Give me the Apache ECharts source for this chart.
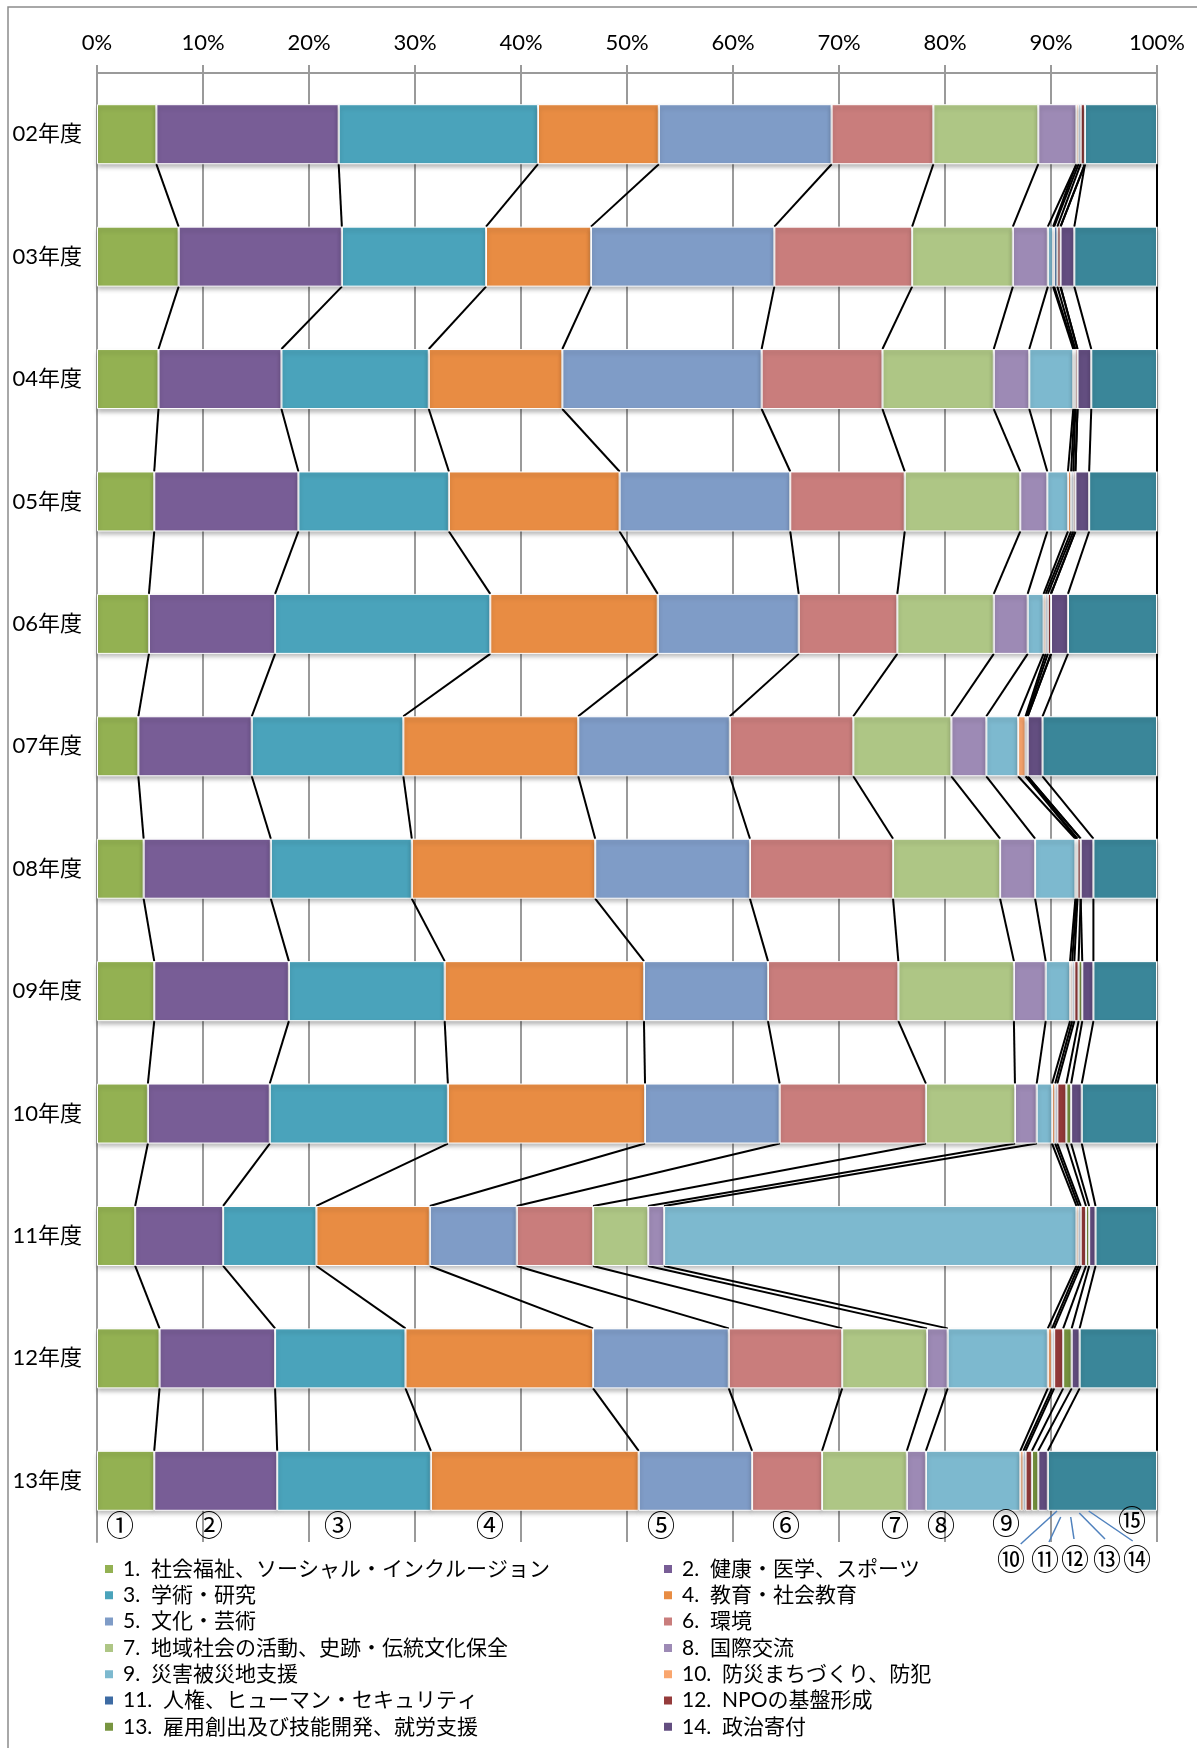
<!DOCTYPE html>
<html><head><meta charset="utf-8">
<script src="https://cdn.jsdelivr.net/npm/echarts@6/dist/echarts.min.js"></script>
<style>html,body{margin:0;padding:0;background:#fff}#c{width:1197px;height:1748px}</style>
</head><body><div id="c"></div>
<script>
const categories = ['02年度','03年度','04年度','05年度','06年度','07年度','08年度','09年度','10年度','11年度','12年度','13年度'];
const tickValues = [0,10,20,30,40,50,60,70,80,90,100];
const seriesNames = [
  '1.  社会福祉、ソーシャル・インクルージョン','2.  健康・医学、スポーツ','3.  学術・研究','4.  教育・社会教育',
  '5.  文化・芸術','6.  環境','7.  地域社会の活動、史跡・伝統文化保全','8.  国際交流','9.  災害被災地支援',
  '10.  防災まちづくり、防犯','11.  人権、ヒューマン・セキュリティ','12.  NPOの基盤形成',
  '13.  雇用創出及び技能開発、就労支援','14.  政治寄付','15'
];
const s01 = [5.6, 7.7, 5.8, 5.4, 4.9, 3.9, 4.4, 5.4, 4.8, 3.6, 5.9, 5.4];
const s02 = [17.2, 15.4, 11.6, 13.6, 11.9, 10.7, 12.0, 12.7, 11.5, 8.3, 10.9, 11.6];
const s03 = [18.8, 13.6, 13.9, 14.2, 20.3, 14.3, 13.3, 14.7, 16.8, 8.8, 12.3, 14.5];
const s04 = [11.4, 9.9, 12.6, 16.1, 15.8, 16.5, 17.3, 18.8, 18.6, 10.7, 17.7, 19.6];
const s05 = [16.3, 17.3, 18.8, 16.1, 13.3, 14.3, 14.6, 11.7, 12.7, 8.2, 12.8, 10.7];
const s06 = [9.6, 13.0, 11.4, 10.8, 9.3, 11.65, 13.5, 12.3, 13.8, 7.2, 10.7, 6.6];
const s07 = [9.9, 9.5, 10.5, 10.9, 9.1, 9.25, 10.1, 10.9, 8.4, 5.2, 8.0, 8.0];
const s08 = [3.6, 3.3, 3.35, 2.55, 3.2, 3.3, 3.3, 3.0, 2.05, 1.5, 1.95, 1.8];
const s09 = [0, 0.5, 4.15, 1.95, 1.5, 3.0, 3.8, 2.3, 1.45, 38.9, 9.45, 8.9];
const s10 = [0.2, 0.1, 0.1, 0.3, 0.2, 0.7, 0.1, 0.2, 0.3, 0.2, 0.4, 0.3];
const s11 = [0.2, 0.3, 0.1, 0.2, 0.2, 0.1, 0.1, 0.2, 0.2, 0.2, 0.2, 0.2];
const s12 = [0.4, 0.3, 0.2, 0.2, 0.3, 0.1, 0.3, 0.4, 0.85, 0.5, 0.85, 0.6];
const s13 = [0, 0, 0, 0, 0, 0, 0, 0.35, 0.45, 0.3, 0.8, 0.6];
const s14 = [0, 1.3, 1.3, 1.3, 1.6, 1.4, 1.2, 1.05, 1.0, 0.6, 0.75, 0.9];
const s15 = [6.8, 7.8, 6.2, 6.4, 8.4, 10.8, 6.0, 6.0, 7.1, 5.8, 7.3, 10.3];
const colors = ['#93B152','#785D96','#4AA3BB','#E88C43','#7F9CC7','#C97D7C','#AEC685','#9D8AB5',
  '#7DB9CF','#F9A66E','#3D6BA3','#953B3B','#789540','#634E80','#3A8699'];

const all = [s01,s02,s03,s04,s05,s06,s07,s08,s09,s10,s11,s12,s13,s14,s15];
const BAR_W = 60;
const FONT_MIX = 'Lato,"Noto Sans CJK JP","Noto Sans",sans-serif';

// cumulative stack ends (for connecting series lines)
const cum = [];
all.forEach((arr, k) => {
  cum.push(arr.map((v, i) => v + (k > 0 ? cum[k - 1][i] : 0)));
});
const lineData = [];
for (let k = 0; k < all.length; k++) {
  for (let i = 0; i < categories.length - 1; i++) {
    lineData.push([cum[k][i], i, cum[k][i + 1], i + 1]);
  }
}

const chart = echarts.init(document.getElementById('c'), null, {renderer: 'canvas'});

const barSeries = all.map((arr, k) => ({
  name: seriesNames[k],
  type: 'bar',
  stack: 'total',
  barWidth: BAR_W,
  data: arr,
  z: 3,
  itemStyle: {
    color: colors[k],
    borderColor: '#ffffff',
    borderWidth: 1,
    shadowColor: 'rgba(0,0,0,0.25)',
    shadowBlur: 4,
    shadowOffsetY: 3
  },
  emphasis: {disabled: true},
  animation: false
}));

const circ = (t, x, y, fs) => ({type: 'text', x: x, y: y, z: 10, style: {text: t, fontSize: fs || 28, fontFamily: '"Noto Sans CJK JP"', fill: '#000', align: 'center', verticalAlign: 'middle'}});
const lead = (x1, y1, x2, y2) => ({type: 'line', z: 10, shape: {x1, y1, x2, y2}, style: {stroke: '#4F81BD', lineWidth: 1.5}});

const option = {
  animation: false,
  backgroundColor: '#fff',
  grid: {left: 97, right: 40, top: 73, bottom: 206, containLabel: false},
  xAxis: {
    type: 'value', position: 'top', min: 0, max: 100, interval: 10,
    axisLine: {show: true, lineStyle: {color: '#9a9a9a', width: 2}},
    axisTick: {show: true, inside: false, length: 8, lineStyle: {color: '#9a9a9a', width: 2}},
    axisLabel: {margin: 19, formatter: v => tickValues.includes(v) ? v + '%' : '', color: '#000', fontSize: 22, fontFamily: FONT_MIX},
    splitLine: {show: true, lineStyle: {color: '#9a9a9a', width: 2}}
  },
  yAxis: {
    type: 'category', inverse: true, data: categories,
    axisLine: {show: true, lineStyle: {color: '#9a9a9a', width: 2}},
    axisTick: {show: false},
    axisLabel: {margin: 15, color: '#000', fontSize: 22, fontFamily: FONT_MIX}
  },
  legend: [
    {
      data: seriesNames.filter((n, i) => i < 14 && i % 2 === 0),
      orient: 'vertical', left: 103, top: 1558, padding: 0,
      itemWidth: 10, itemHeight: 10, itemGap: 4.3, icon: 'rect', selectedMode: false,
      textStyle: {fontSize: 21, lineHeight: 22, color: '#000', fontFamily: FONT_MIX, padding: [0, 0, 0, 4]}
    },
    {
      data: seriesNames.filter((n, i) => i < 14 && i % 2 === 1),
      orient: 'vertical', left: 662, top: 1558, padding: 0,
      itemWidth: 10, itemHeight: 10, itemGap: 4.3, icon: 'rect', selectedMode: false,
      textStyle: {fontSize: 21, lineHeight: 22, color: '#000', fontFamily: FONT_MIX, padding: [0, 0, 0, 4]}
    }
  ],
  series: barSeries.concat([{
    type: 'custom',
    name: 'series-lines',
    coordinateSystem: 'cartesian2d',
    data: lineData,
    encode: {x: [0, 2], y: [1, 3]},
    z: 2,
    silent: true,
    renderItem: (params, api) => {
      const a = api.coord([api.value(0), api.value(1)]);
      const b = api.coord([api.value(2), api.value(3)]);
      const h = BAR_W / 2;
      return {type: 'line', shape: {x1: a[0], y1: a[1] + h, x2: b[0], y2: b[1] - h}, style: {stroke: '#000', lineWidth: 2}};
    }
  }]),
  graphic: [
    {type: 'rect', shape: {x: 8, y: 7, width: 1300, height: 1900}, style: {fill: 'none', stroke: '#8c8c8c', lineWidth: 1.5}, z: -1},
    lead(1020.7, 1544, 1057, 1511), lead(1049, 1542, 1060.7, 1517), lead(1074, 1539, 1070.7, 1517),
    lead(1105, 1539, 1079.3, 1513), lead(1132.7, 1541, 1088.7, 1511),
    circ('①', 120, 1525), circ('②', 209, 1525), circ('③', 338, 1525), circ('④', 490, 1525),
    circ('⑤', 661, 1525), circ('⑥', 786, 1525), circ('⑦', 895, 1525), circ('⑧', 941, 1525),
    circ('⑨', 1006, 1523), circ('⑮', 1132, 1520, 28),
    circ('⑩', 1011, 1559, 28), circ('⑪', 1045, 1559, 28), circ('⑫', 1075, 1559, 28), circ('⑬', 1107, 1559, 28), circ('⑭', 1137, 1559, 28)
  ]
};
chart.setOption(option);
</script>
</body></html>
